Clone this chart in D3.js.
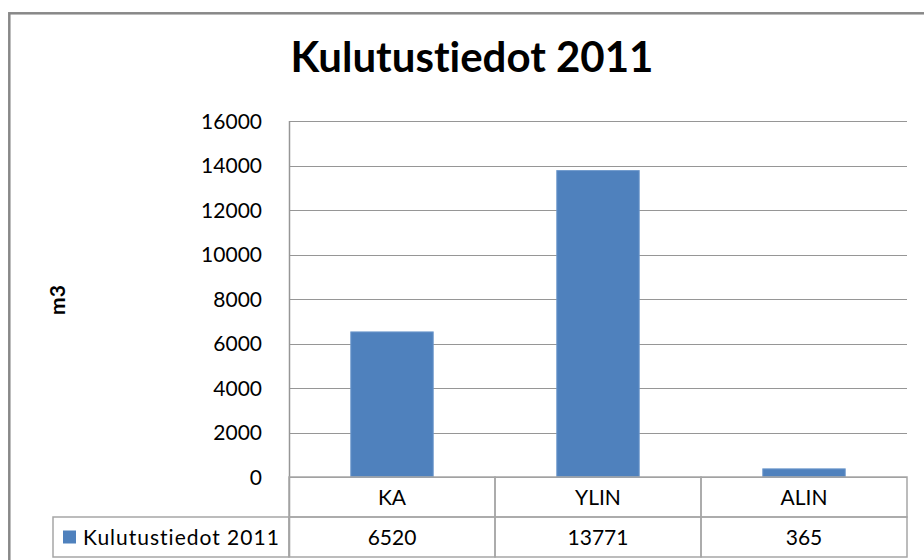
<!DOCTYPE html>
<html lang="fi">
<head>
<meta charset="utf-8" />
<title>Kulutustiedot 2011</title>
<script src="https://d3js.org/d3.v7.min.js"></script>
<style>
  body { margin: 0; background: #fff; }
  text { font-family: Lato, "Open Sans", sans-serif; fill: #000; font-variant-ligatures: none; }
  .grid line { stroke: #969696; stroke-width: 1px; shape-rendering: crispEdges; }
  .cell { stroke: #a6a6a6; stroke-width: 1.5px; fill: none; }
</style>
</head>
<body>
<script>

// chart data
var categories = ["KA", "YLIN", "ALIN"];
var values = [6520, 13771, 365];
var seriesName = "Kulutustiedot 2011";
var yTicks = [0, 2000, 4000, 6000, 8000, 10000, 12000, 14000, 16000];

var W = 924, H = 560;
var plot = {left: 289, right: 907, top: 121, bottom: 477};
var rowH = 40;
var tableLeft = 53;

var svg = d3.select("body").append("svg")
    .attr("width", W)
    .attr("height", H);

// outer frame (runs off the right/bottom edge like the screenshot)
svg.append("rect")
    .attr("x", 9.3).attr("y", 13.3)
    .attr("width", W + 20).attr("height", H + 20)
    .attr("fill", "#fff")
    .attr("stroke", "#888")
    .attr("stroke-width", 2.5);

// scales
var x = d3.scaleBand()
    .domain(categories)
    .range([plot.left, plot.right])
    .paddingInner(0.6)
    .paddingOuter(0.3);

var cellX = d3.scaleBand()
    .domain(categories)
    .range([plot.left, plot.right]);

var y = d3.scaleLinear()
    .domain([0, 16000])
    .range([plot.bottom, plot.top]);

// gridlines
svg.append("g")
    .attr("class", "grid")
    .selectAll("line")
    .data(yTicks)
  .enter().append("line")
    .attr("x1", plot.left).attr("x2", plot.right)
    .attr("y1", function(d) { return Math.round(y(d)) + 0.5; })
    .attr("y2", function(d) { return Math.round(y(d)) + 0.5; });

// y tick labels
svg.append("g")
    .selectAll("text")
    .data(yTicks)
  .enter().append("text")
    .attr("x", 262)
    .attr("y", function(d) { return y(d); })
    .attr("dy", "0.36em")
    .attr("text-anchor", "end")
    .style("font-size", "21px")
    .text(function(d) { return d; });

// bars
svg.append("g")
    .selectAll("rect")
    .data(values)
  .enter().append("rect")
    .attr("x", function(d, i) { return x(categories[i]); })
    .attr("width", x.bandwidth())
    .attr("y", function(d) { return y(d); })
    .attr("height", function(d) { return y(0) - y(d); })
    .attr("fill", "#4f81bd")
    .attr("stroke", "#6d98cc")
    .attr("stroke-width", 1);

// y axis line
svg.append("line")
    .attr("x1", plot.left + 0.5).attr("x2", plot.left + 0.5)
    .attr("y1", plot.top).attr("y2", plot.bottom + 2 * rowH)
    .attr("stroke", "#969696")
    .attr("stroke-width", 1.5);

// data table: category row + value row
var table = svg.append("g");
categories.forEach(function(c, i) {
  table.append("rect")
      .attr("class", "cell")
      .attr("x", cellX(c)).attr("y", plot.bottom)
      .attr("width", cellX.bandwidth()).attr("height", rowH);
  table.append("text")
      .attr("x", cellX(c) + cellX.bandwidth() / 2)
      .attr("y", plot.bottom + rowH / 2)
      .attr("dy", "0.36em")
      .attr("text-anchor", "middle")
      .style("font-size", "21px")
      .text(c);
  table.append("rect")
      .attr("class", "cell")
      .attr("x", cellX(c)).attr("y", plot.bottom + rowH)
      .attr("width", cellX.bandwidth()).attr("height", rowH);
  table.append("text")
      .attr("x", cellX(c) + cellX.bandwidth() / 2)
      .attr("y", plot.bottom + rowH * 1.5)
      .attr("dy", "0.36em")
      .attr("text-anchor", "middle")
      .style("font-size", "21px")
      .text(values[i]);
});

// legend cell
table.append("rect")
    .attr("class", "cell")
    .attr("x", tableLeft).attr("y", plot.bottom + rowH)
    .attr("width", plot.left - tableLeft).attr("height", rowH);
table.append("rect")
    .attr("x", 63).attr("y", plot.bottom + rowH * 1.5 - 6.5)
    .attr("width", 13).attr("height", 13)
    .attr("fill", "#4f81bd");
table.append("text")
    .attr("x", 83)
    .attr("y", plot.bottom + rowH * 1.5)
    .attr("dy", "0.36em")
    .style("font-size", "21px")
    .style("letter-spacing", "1px")
    .text(seriesName);

// title
svg.append("text")
    .attr("x", 472)
    .attr("y", 72)
    .attr("text-anchor", "middle")
    .style("font-size", "42px")
    .style("font-weight", "bold")
    .text("Kulutustiedot 2011");

// y axis title
svg.append("text")
    .attr("transform", "translate(57.5,300) rotate(-90)")
    .attr("dy", "0.36em")
    .attr("text-anchor", "middle")
    .style("font-size", "21px")
    .style("font-weight", "bold")
    .text("m3");

</script>
</body>
</html>
